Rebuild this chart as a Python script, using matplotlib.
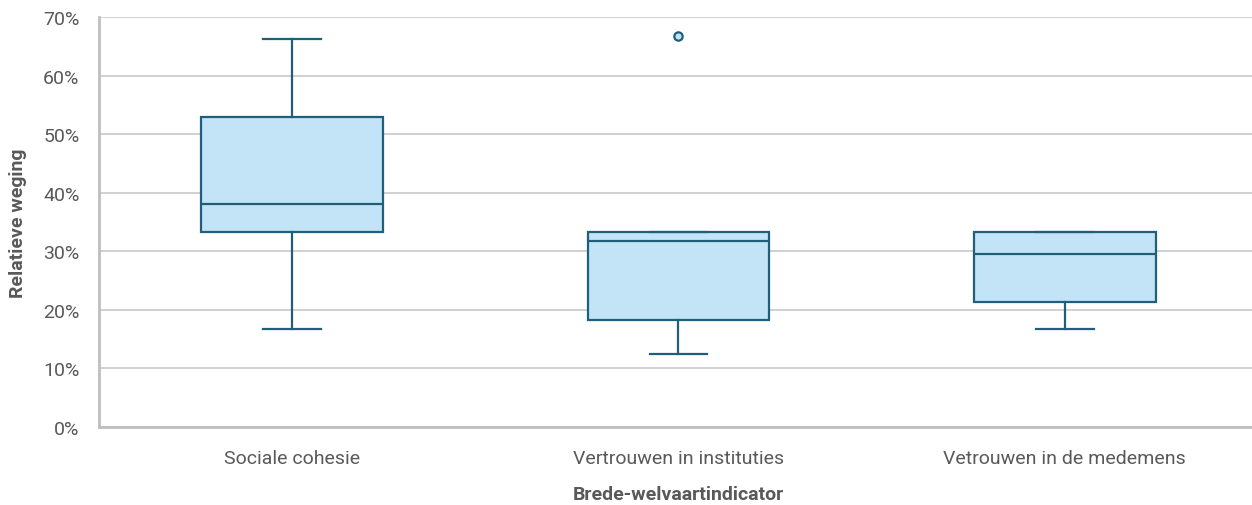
import matplotlib
matplotlib.use("Agg")
import matplotlib.pyplot as plt
from matplotlib.ticker import PercentFormatter

categories = ["Sociale cohesie", "Vertrouwen in instituties", "Vetrouwen in de medemens"]
whislo = [16.7, 12.5, 16.7]
q1 = [33.3, 18.2, 21.4]
med = [38.1, 31.8, 29.5]
q3 = [53.0, 33.3, 33.3]
whishi = [66.3, 33.3, 33.3]
fliers = [[], [66.7], []]
yticks = [0, 10, 20, 30, 40, 50, 60, 70]

edge = "#1f5f7a"
fill = "#c3e4f6"
grid = "#c8c8c8"
txt = "#595959"

plt.rcParams['font.family'] = ['Roboto', 'DejaVu Sans']

fig = plt.figure(figsize=(12.52, 5.06), dpi=100)
ax = fig.add_axes([99/1252, 1 - 428/506, (1258 - 99)/1252, (428 - 18)/506])

stats = []
for i, c in enumerate(categories):
    stats.append(dict(label=c, whislo=whislo[i], q1=q1[i], med=med[i], q3=q3[i],
                      whishi=whishi[i], fliers=fliers[i]))

ax.bxp(stats, positions=range(len(categories)), widths=0.47, patch_artist=True,
       showcaps=True, capwidths=0.15,
       boxprops=dict(facecolor=fill, edgecolor=edge, linewidth=1.6),
       medianprops=dict(color=edge, linewidth=1.6),
       whiskerprops=dict(color=edge, linewidth=1.6),
       capprops=dict(color=edge, linewidth=1.6),
       flierprops=dict(marker='o', markersize=6, markerfacecolor=fill,
                       markeredgecolor=edge, markeredgewidth=1.6), zorder=3)

ax.set_xlim(-0.5, 2.5)
ax.set_ylim(0, 70)
ax.set_yticks(yticks)
ax.yaxis.set_major_formatter(PercentFormatter(decimals=0))
ax.grid(axis='y', color=grid, linewidth=1.2, zorder=0)
ax.set_axisbelow(True)
for s in ['top', 'right']:
    ax.spines[s].set_visible(False)
for s in ['left', 'bottom']:
    ax.spines[s].set_color("#bfbfbf")
    ax.spines[s].set_linewidth(2)
ax.tick_params(axis='both', length=0, labelsize=14, colors=txt)
ax.tick_params(axis='x', pad=16)
ax.tick_params(axis='y', pad=14)
ax.set_xlabel("Brede-welvaartindicator", fontsize=14, fontweight='bold', color=txt, labelpad=13)
ax.set_ylabel("Relatieve weging", fontsize=14, fontweight='bold', color=txt, labelpad=12)

fig.savefig("out.png", dpi=100)
